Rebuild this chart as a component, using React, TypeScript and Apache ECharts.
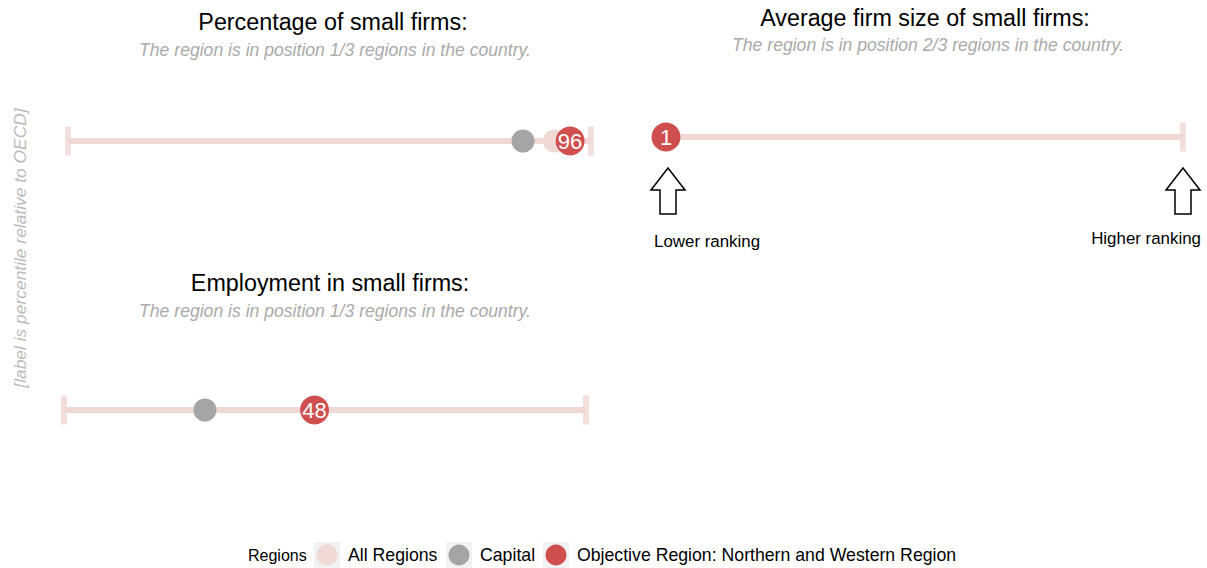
import React, { useEffect, useRef } from "react";
import * as echarts from "echarts";

// ---- data ----
const panelTitles = [
  "Percentage of small firms:",
  "Average firm size of small firms:",
  "Employment in small firms:",
];
const panelSubtitles = [
  "The region is in position 1/3 regions in the country.",
  "The region is in position 2/3 regions in the country.",
  "The region is in position 1/3 regions in the country.",
];
// percentile panels (0-100)
const pctAllRegions = [87, 93, 96];
const pctCapital = [87];
const pctObjective = [96];
const empAllRegions = [27, 48];
const empCapital = [27];
const empObjective = [48];
// ranking panel (1..3)
const rankRange = [1, 3];
const rankObjective = [1];
const pctRange = [0, 100];
const legendItems = ["All Regions", "Capital", "Objective Region: Northern and Western Region"];
const yLabel = "[label is percentile relative to OECD]";

const PINK = "#F0D8D4";
const GRAY = "#A5A5A5";
const RED = "#CF4F4F";
const FONT = "'Liberation Sans', Arial, sans-serif";

function panelSeries(idx: number, range: number[], all: number[], cap: number[], obj: number[]) {
  const ends = range.map((v) => [v, 0]);
  return [
    {
      type: "line",
      xAxisIndex: idx,
      yAxisIndex: idx,
      data: ends,
      symbol: "none",
      lineStyle: { color: PINK, width: 6 },
      silent: true,
      z: 1,
    },
    {
      type: "scatter",
      xAxisIndex: idx,
      yAxisIndex: idx,
      data: ends,
      symbol: "rect",
      symbolSize: [6, 29],
      itemStyle: { color: PINK },
      z: 1,
    },
    {
      type: "scatter",
      name: "All Regions",
      xAxisIndex: idx,
      yAxisIndex: idx,
      data: all.map((v) => [v, 0]),
      symbolSize: 23,
      itemStyle: { color: PINK, opacity: 1 },
      z: 2,
    },
    {
      type: "scatter",
      name: "Capital",
      xAxisIndex: idx,
      yAxisIndex: idx,
      data: cap.map((v) => [v, 0]),
      symbolSize: 23,
      itemStyle: { color: GRAY, opacity: 1 },
      z: 3,
    },
    {
      type: "scatter",
      name: "Objective",
      xAxisIndex: idx,
      yAxisIndex: idx,
      data: obj.map((v) => [v, 0]),
      symbolSize: 29,
      itemStyle: { color: RED, opacity: 1 },
      label: {
        show: true,
        position: "inside",
        formatter: (p: any) => String(p.value[0]),
        color: "#fff",
        fontSize: 22,
        fontFamily: FONT,
      },
      z: 4,
    },
  ];
}

function arrow(cx: number) {
  return {
    type: "polygon",
    shape: {
      points: [
        [cx, 168],
        [cx + 17, 190],
        [cx + 8, 190],
        [cx + 8, 214],
        [cx - 8, 214],
        [cx - 8, 190],
        [cx - 17, 190],
      ],
    },
    style: { fill: "#fff", stroke: "#000", lineWidth: 1.5 },
  };
}

function text(x: number, y: number, t: string, opts: any = {}) {
  return {
    type: "text",
    x,
    y,
    style: {
      text: t,
      fontFamily: FONT,
      fontSize: opts.fontSize || 16,
      fontStyle: opts.italic ? "italic" : "normal",
      fill: opts.color || "#000",
      align: opts.align || "center",
      verticalAlign: "middle",
    },
    rotation: opts.rotation || 0,
  };
}

export default function App() {
  const ref = useRef<HTMLDivElement>(null);
  useEffect(() => {
    document.body.style.margin = "0";
    const chart = echarts.init(ref.current!, null, { renderer: "svg" });
    const grids = [
      { left: 68, width: 523, top: 111, height: 60 },
      { left: 666, width: 517, top: 107, height: 60 },
      { left: 64, width: 522, top: 380, height: 60 },
    ];
    const xRanges = [pctRange, rankRange, pctRange];
    const xAxes = grids.map((_, i) => ({
      type: "value",
      gridIndex: i,
      min: xRanges[i][0],
      max: xRanges[i][1],
      show: false,
    }));
    const yAxes = grids.map((_, i) => ({
      type: "value",
      gridIndex: i,
      min: -1,
      max: 1,
      show: false,
    }));
    const series = [
      ...panelSeries(0, pctRange, pctAllRegions, pctCapital, pctObjective),
      ...panelSeries(1, rankRange, [], [], rankObjective),
      ...panelSeries(2, pctRange, empAllRegions, empCapital, empObjective),
    ];

    const legendX = [327, 459, 556];
    const legendColors = [PINK, GRAY, RED];
    const legendGraphics: any[] = [text(248, 555, "Regions", { align: "left", fontSize: 16 })];
    legendItems.forEach((name, i) => {
      legendGraphics.push({
        type: "rect",
        shape: { x: legendX[i] - 13, y: 542, width: 26, height: 26 },
        style: { fill: "#F2F2F2" },
      });
      legendGraphics.push({
        type: "circle",
        shape: { cx: legendX[i], cy: 555, r: 10.5 },
        style: { fill: legendColors[i] },
      });
      legendGraphics.push(text(legendX[i] + 21, 555, name, { align: "left", fontSize: 17.7 }));
    });

    chart.setOption({
      animation: false,
      grid: grids,
      xAxis: xAxes,
      yAxis: yAxes,
      series,
      graphic: [
        text(333, 22, panelTitles[0], { fontSize: 23.3 }),
        text(335, 50, panelSubtitles[0], { fontSize: 17.6, italic: true, color: "#AAAAAA" }),
        text(925, 18, panelTitles[1], { fontSize: 23.3 }),
        text(928, 45, panelSubtitles[1], { fontSize: 17.6, italic: true, color: "#AAAAAA" }),
        text(330, 283, panelTitles[2], { fontSize: 23.3 }),
        text(335, 311, panelSubtitles[2], { fontSize: 17.6, italic: true, color: "#AAAAAA" }),
        {
          type: "text",
          x: 20,
          y: 248,
          rotation: Math.PI / 2,
          style: {
            text: yLabel,
            fontFamily: FONT,
            fontSize: 17.4,
            fontStyle: "italic",
            fill: "#BBBBBB",
            align: "center",
            verticalAlign: "middle",
          },
        },
        arrow(668),
        arrow(1183),
        text(654, 241, "Lower ranking", { align: "left", fontSize: 16.9 }),
        text(1201, 238, "Higher ranking", { align: "right", fontSize: 16.9 }),
        ...legendGraphics,
      ],
    });
    return () => chart.dispose();
  }, []);
  return <div ref={ref} style={{ width: 1207, height: 568 }} />;
}
